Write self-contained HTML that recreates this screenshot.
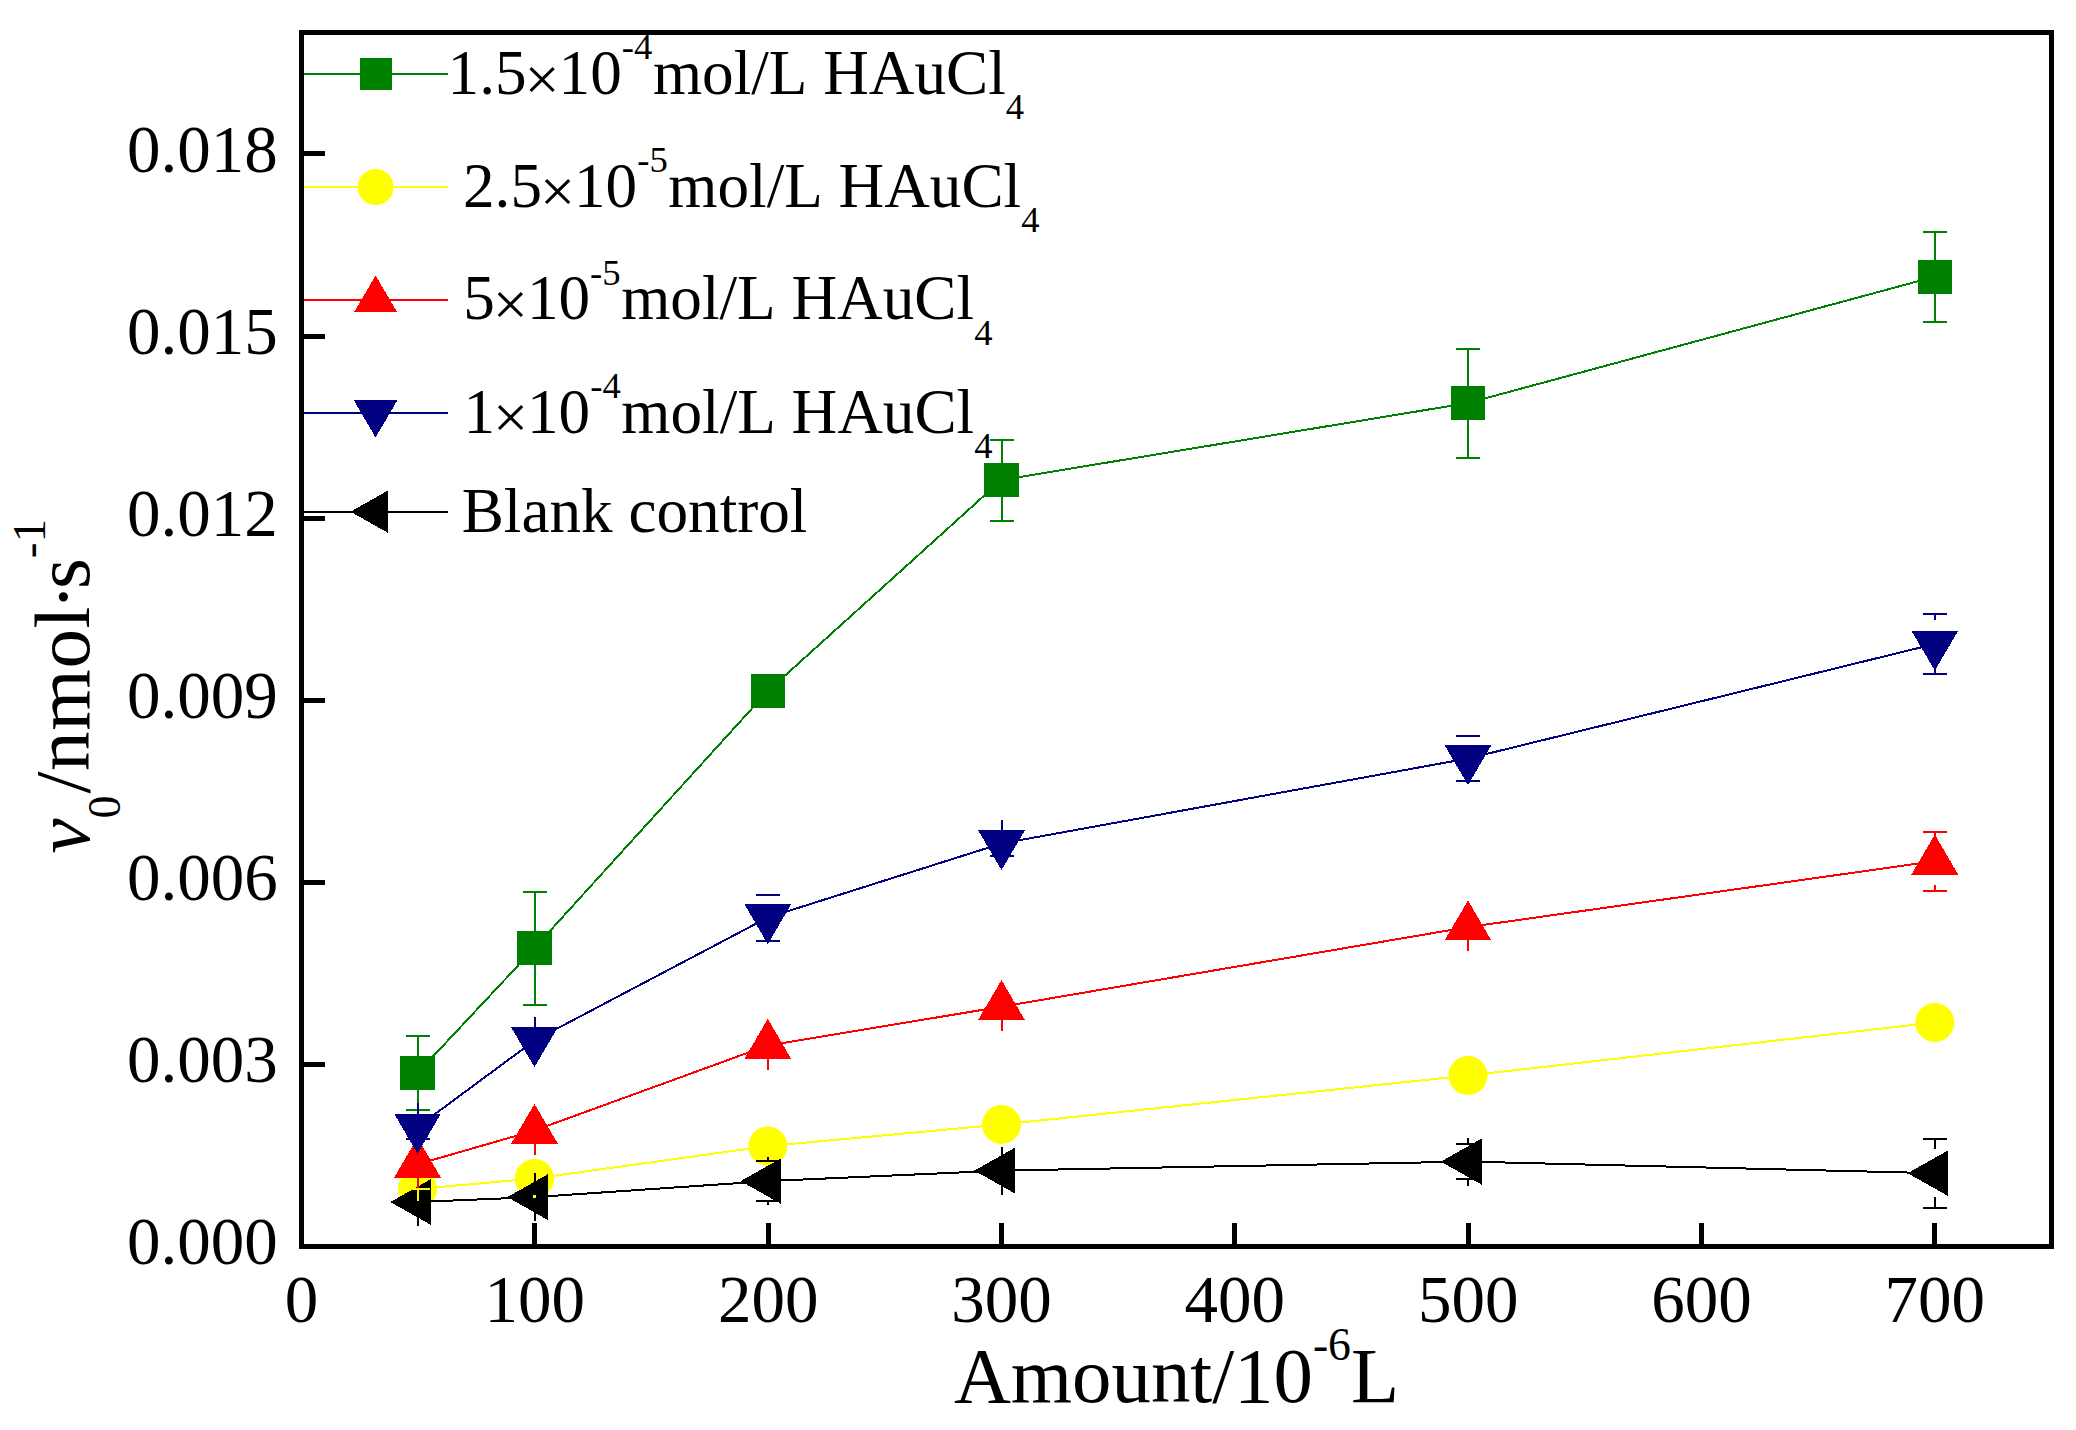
<!DOCTYPE html>
<html lang="en"><head><meta charset="utf-8"><title>Initial rate vs amount</title>
<style>html,body{margin:0;padding:0;background:#fff}body{width:2076px;height:1430px;overflow:hidden}</style>
</head><body>
<svg width="2076" height="1430" viewBox="0 0 2076 1430" style="display:block;font-kerning:none;font-variant-ligatures:none" font-family='"Liberation Serif", serif' fill="#000">
<rect x="0" y="0" width="2076" height="1430" fill="#fff"/>
<g shape-rendering="crispEdges">
<polyline points="417.5,1073 534.5,948 767.8,691.1 1001.5,480 1468,403 1934.8,276.7" fill="none" stroke="#008000" stroke-width="2.0"/>
<rect x="400.2" y="1056" width="34.6" height="34" fill="#008000"/>
<rect x="517.2" y="931" width="34.6" height="34" fill="#008000"/>
<rect x="750.5" y="674.1" width="34.6" height="34" fill="#008000"/>
<rect x="984.2" y="463" width="34.6" height="34" fill="#008000"/>
<rect x="1450.7" y="386" width="34.6" height="34" fill="#008000"/>
<rect x="1917.5" y="259.7" width="34.6" height="34" fill="#008000"/>
<polyline points="417.5,1189 534.5,1178.5 767.8,1146.1 1001.5,1124.5 1468,1075.5 1934.8,1022.5" fill="none" stroke="#ffff00" stroke-width="2.0"/>
<circle cx="417.5" cy="1189" r="19.5" fill="#ffff00" shape-rendering="auto"/>
<circle cx="534.5" cy="1178.5" r="19.5" fill="#ffff00" shape-rendering="auto"/>
<circle cx="767.8" cy="1146.1" r="19.5" fill="#ffff00" shape-rendering="auto"/>
<circle cx="1001.5" cy="1124.5" r="19.5" fill="#ffff00" shape-rendering="auto"/>
<circle cx="1468" cy="1075.5" r="19.5" fill="#ffff00" shape-rendering="auto"/>
<circle cx="1934.8" cy="1022.5" r="19.5" fill="#ffff00" shape-rendering="auto"/>
<polyline points="417.5,1164.3 534.5,1130.5 767.8,1045.5 1001.5,1006.7 1468,927.1 1934.8,861.2" fill="none" stroke="#ff0000" stroke-width="2.0"/>
<polygon points="417.5,1137.63 394.1,1177.63 440.9,1177.63" fill="#ff0000"/>
<polygon points="534.5,1103.83 511.1,1143.83 557.9,1143.83" fill="#ff0000"/>
<polygon points="767.8,1018.83 744.4,1058.83 791.2,1058.83" fill="#ff0000"/>
<polygon points="1001.5,980.03 978.1,1020.03 1024.9,1020.03" fill="#ff0000"/>
<polygon points="1468,900.43 1444.6,940.43 1491.4,940.43" fill="#ff0000"/>
<polygon points="1934.8,834.53 1911.4,874.53 1958.2,874.53" fill="#ff0000"/>
<polyline points="417.5,1127 534.5,1040.5 767.8,917.5 1001.5,843.5 1468,758.5 1934.8,644" fill="none" stroke="#000080" stroke-width="2.0"/>
<polygon points="417.5,1153.67 394.1,1113.67 440.9,1113.67" fill="#000080"/>
<polygon points="534.5,1067.17 511.1,1027.17 557.9,1027.17" fill="#000080"/>
<polygon points="767.8,944.17 744.4,904.17 791.2,904.17" fill="#000080"/>
<polygon points="1001.5,870.17 978.1,830.17 1024.9,830.17" fill="#000080"/>
<polygon points="1468,785.17 1444.6,745.17 1491.4,745.17" fill="#000080"/>
<polygon points="1934.8,670.67 1911.4,630.67 1958.2,630.67" fill="#000080"/>
<polyline points="417.5,1202 534.5,1197.1 767.8,1181.1 1001.5,1170.6 1468,1161.6 1934.8,1173.2" fill="none" stroke="#000000" stroke-width="2.0"/>
<polygon points="390.3,1202 431.1,1179 431.1,1225" fill="#000000"/>
<polygon points="507.3,1197.1 548.1,1174.1 548.1,1220.1" fill="#000000"/>
<polygon points="740.6,1181.1 781.4,1158.1 781.4,1204.1" fill="#000000"/>
<polygon points="974.3,1170.6 1015.1,1147.6 1015.1,1193.6" fill="#000000"/>
<polygon points="1440.8,1161.6 1481.6,1138.6 1481.6,1184.6" fill="#000000"/>
<polygon points="1907.6,1173.2 1948.4,1150.2 1948.4,1196.2" fill="#000000"/>
<line x1="405.5" y1="1036" x2="429.5" y2="1036" stroke="#008000" stroke-width="2.0"/>
<line x1="417.5" y1="1036" x2="417.5" y2="1056" stroke="#008000" stroke-width="2.0"/>
<line x1="405.5" y1="1110" x2="429.5" y2="1110" stroke="#008000" stroke-width="2.0"/>
<line x1="417.5" y1="1110" x2="417.5" y2="1090" stroke="#008000" stroke-width="2.0"/>
<line x1="522.5" y1="891.5" x2="546.5" y2="891.5" stroke="#008000" stroke-width="2.0"/>
<line x1="534.5" y1="891.5" x2="534.5" y2="931" stroke="#008000" stroke-width="2.0"/>
<line x1="522.5" y1="1004.5" x2="546.5" y2="1004.5" stroke="#008000" stroke-width="2.0"/>
<line x1="534.5" y1="1004.5" x2="534.5" y2="965" stroke="#008000" stroke-width="2.0"/>
<line x1="989.5" y1="439.5" x2="1013.5" y2="439.5" stroke="#008000" stroke-width="2.0"/>
<line x1="1001.5" y1="439.5" x2="1001.5" y2="463" stroke="#008000" stroke-width="2.0"/>
<line x1="989.5" y1="520.5" x2="1013.5" y2="520.5" stroke="#008000" stroke-width="2.0"/>
<line x1="1001.5" y1="520.5" x2="1001.5" y2="497" stroke="#008000" stroke-width="2.0"/>
<line x1="1456" y1="348.5" x2="1480" y2="348.5" stroke="#008000" stroke-width="2.0"/>
<line x1="1468" y1="348.5" x2="1468" y2="386" stroke="#008000" stroke-width="2.0"/>
<line x1="1456" y1="457.5" x2="1480" y2="457.5" stroke="#008000" stroke-width="2.0"/>
<line x1="1468" y1="457.5" x2="1468" y2="420" stroke="#008000" stroke-width="2.0"/>
<line x1="1922.8" y1="231.7" x2="1946.8" y2="231.7" stroke="#008000" stroke-width="2.0"/>
<line x1="1934.8" y1="231.7" x2="1934.8" y2="259.7" stroke="#008000" stroke-width="2.0"/>
<line x1="1922.8" y1="321.7" x2="1946.8" y2="321.7" stroke="#008000" stroke-width="2.0"/>
<line x1="1934.8" y1="321.7" x2="1934.8" y2="293.7" stroke="#008000" stroke-width="2.0"/>
<line x1="405.5" y1="1197" x2="429.5" y2="1197" stroke="#000000" stroke-width="2.0"/>
<line x1="417.5" y1="1197" x2="417.5" y2="1178" stroke="#000000" stroke-width="2.0"/>
<line x1="405.5" y1="1207" x2="429.5" y2="1207" stroke="#000000" stroke-width="2.0"/>
<line x1="417.5" y1="1207" x2="417.5" y2="1226" stroke="#000000" stroke-width="2.0"/>
<line x1="522.5" y1="1192.1" x2="546.5" y2="1192.1" stroke="#000000" stroke-width="2.0"/>
<line x1="534.5" y1="1192.1" x2="534.5" y2="1173.1" stroke="#000000" stroke-width="2.0"/>
<line x1="522.5" y1="1202.1" x2="546.5" y2="1202.1" stroke="#000000" stroke-width="2.0"/>
<line x1="534.5" y1="1202.1" x2="534.5" y2="1221.1" stroke="#000000" stroke-width="2.0"/>
<line x1="755.8" y1="1161.1" x2="779.8" y2="1161.1" stroke="#000000" stroke-width="2.0"/>
<line x1="767.8" y1="1161.1" x2="767.8" y2="1157.1" stroke="#000000" stroke-width="2.0"/>
<line x1="755.8" y1="1201.1" x2="779.8" y2="1201.1" stroke="#000000" stroke-width="2.0"/>
<line x1="767.8" y1="1201.1" x2="767.8" y2="1205.1" stroke="#000000" stroke-width="2.0"/>
<line x1="989.5" y1="1165.6" x2="1013.5" y2="1165.6" stroke="#000000" stroke-width="2.0"/>
<line x1="1001.5" y1="1165.6" x2="1001.5" y2="1146.6" stroke="#000000" stroke-width="2.0"/>
<line x1="989.5" y1="1175.6" x2="1013.5" y2="1175.6" stroke="#000000" stroke-width="2.0"/>
<line x1="1001.5" y1="1175.6" x2="1001.5" y2="1194.6" stroke="#000000" stroke-width="2.0"/>
<line x1="1456" y1="1144.4" x2="1480" y2="1144.4" stroke="#000000" stroke-width="2.0"/>
<line x1="1468" y1="1144.4" x2="1468" y2="1137.6" stroke="#000000" stroke-width="2.0"/>
<line x1="1456" y1="1178.8" x2="1480" y2="1178.8" stroke="#000000" stroke-width="2.0"/>
<line x1="1468" y1="1178.8" x2="1468" y2="1185.6" stroke="#000000" stroke-width="2.0"/>
<line x1="1922.8" y1="1138.9" x2="1946.8" y2="1138.9" stroke="#000000" stroke-width="2.0"/>
<line x1="1934.8" y1="1138.9" x2="1934.8" y2="1149.2" stroke="#000000" stroke-width="2.0"/>
<line x1="1922.8" y1="1207.5" x2="1946.8" y2="1207.5" stroke="#000000" stroke-width="2.0"/>
<line x1="1934.8" y1="1207.5" x2="1934.8" y2="1197.2" stroke="#000000" stroke-width="2.0"/>
<line x1="405.5" y1="1115" x2="429.5" y2="1115" stroke="#000080" stroke-width="2.0"/>
<line x1="417.5" y1="1115" x2="417.5" y2="1103" stroke="#000080" stroke-width="2.0"/>
<line x1="405.5" y1="1139" x2="429.5" y2="1139" stroke="#000080" stroke-width="2.0"/>
<line x1="417.5" y1="1139" x2="417.5" y2="1151" stroke="#000080" stroke-width="2.0"/>
<line x1="522.5" y1="1035.5" x2="546.5" y2="1035.5" stroke="#000080" stroke-width="2.0"/>
<line x1="534.5" y1="1035.5" x2="534.5" y2="1016.5" stroke="#000080" stroke-width="2.0"/>
<line x1="522.5" y1="1045.5" x2="546.5" y2="1045.5" stroke="#000080" stroke-width="2.0"/>
<line x1="534.5" y1="1045.5" x2="534.5" y2="1064.5" stroke="#000080" stroke-width="2.0"/>
<line x1="755.8" y1="894.5" x2="779.8" y2="894.5" stroke="#000080" stroke-width="2.0"/>
<line x1="767.8" y1="894.5" x2="767.8" y2="893.5" stroke="#000080" stroke-width="2.0"/>
<line x1="755.8" y1="940.5" x2="779.8" y2="940.5" stroke="#000080" stroke-width="2.0"/>
<line x1="767.8" y1="940.5" x2="767.8" y2="941.5" stroke="#000080" stroke-width="2.0"/>
<line x1="989.5" y1="830.9" x2="1013.5" y2="830.9" stroke="#000080" stroke-width="2.0"/>
<line x1="1001.5" y1="830.9" x2="1001.5" y2="819.5" stroke="#000080" stroke-width="2.0"/>
<line x1="989.5" y1="856.1" x2="1013.5" y2="856.1" stroke="#000080" stroke-width="2.0"/>
<line x1="1001.5" y1="856.1" x2="1001.5" y2="867.5" stroke="#000080" stroke-width="2.0"/>
<line x1="1456" y1="736" x2="1480" y2="736" stroke="#000080" stroke-width="2.0"/>
<line x1="1468" y1="736" x2="1468" y2="734.5" stroke="#000080" stroke-width="2.0"/>
<line x1="1456" y1="781" x2="1480" y2="781" stroke="#000080" stroke-width="2.0"/>
<line x1="1468" y1="781" x2="1468" y2="782.5" stroke="#000080" stroke-width="2.0"/>
<line x1="1922.8" y1="614" x2="1946.8" y2="614" stroke="#000080" stroke-width="2.0"/>
<line x1="1934.8" y1="614" x2="1934.8" y2="620" stroke="#000080" stroke-width="2.0"/>
<line x1="1922.8" y1="674" x2="1946.8" y2="674" stroke="#000080" stroke-width="2.0"/>
<line x1="1934.8" y1="674" x2="1934.8" y2="668" stroke="#000080" stroke-width="2.0"/>
<line x1="405.5" y1="1189" x2="429.5" y2="1189" stroke="#ffff00" stroke-width="2.0"/>
<line x1="417.5" y1="1188" x2="417.5" y2="1201" stroke="#ffff00" stroke-width="2.0"/>
<rect x="533.3" y="1194.5" width="2.6" height="3" fill="#ffff00"/>
<line x1="405.5" y1="1169.3" x2="429.5" y2="1169.3" stroke="#ff0000" stroke-width="2.0"/>
<line x1="417.5" y1="1169.3" x2="417.5" y2="1188.3" stroke="#ff0000" stroke-width="2.0"/>
<line x1="522.5" y1="1135.5" x2="546.5" y2="1135.5" stroke="#ff0000" stroke-width="2.0"/>
<line x1="534.5" y1="1135.5" x2="534.5" y2="1154.5" stroke="#ff0000" stroke-width="2.0"/>
<line x1="755.8" y1="1050.5" x2="779.8" y2="1050.5" stroke="#ff0000" stroke-width="2.0"/>
<line x1="767.8" y1="1050.5" x2="767.8" y2="1069.5" stroke="#ff0000" stroke-width="2.0"/>
<line x1="989.5" y1="1011.7" x2="1013.5" y2="1011.7" stroke="#ff0000" stroke-width="2.0"/>
<line x1="1001.5" y1="1011.7" x2="1001.5" y2="1030.7" stroke="#ff0000" stroke-width="2.0"/>
<line x1="1456" y1="932.1" x2="1480" y2="932.1" stroke="#ff0000" stroke-width="2.0"/>
<line x1="1468" y1="932.1" x2="1468" y2="951.1" stroke="#ff0000" stroke-width="2.0"/>
<line x1="1922.8" y1="831.6" x2="1946.8" y2="831.6" stroke="#ff0000" stroke-width="2.0"/>
<line x1="1934.8" y1="831.6" x2="1934.8" y2="837.2" stroke="#ff0000" stroke-width="2.0"/>
<line x1="1922.8" y1="890.8" x2="1946.8" y2="890.8" stroke="#ff0000" stroke-width="2.0"/>
<line x1="1934.8" y1="890.8" x2="1934.8" y2="885.2" stroke="#ff0000" stroke-width="2.0"/>
<line x1="303" y1="73.9" x2="448" y2="73.9" stroke="#008000" stroke-width="2.0"/>
<rect x="359.6" y="58.18" width="32.01" height="31.45" fill="#008000"/>
<line x1="303" y1="187.0" x2="448" y2="187.0" stroke="#ffff00" stroke-width="2.0"/>
<circle cx="375.6" cy="187" r="18.04" fill="#ffff00" shape-rendering="auto"/>
<line x1="303" y1="300.1" x2="448" y2="300.1" stroke="#ff0000" stroke-width="2.0"/>
<polygon points="375.6,275.43 353.96,312.43 397.25,312.43" fill="#ff0000"/>
<line x1="303" y1="412.8" x2="448" y2="412.8" stroke="#000080" stroke-width="2.0"/>
<polygon points="375.6,437.47 353.96,400.47 397.25,400.47" fill="#000080"/>
<line x1="303" y1="511.7" x2="448" y2="511.7" stroke="#000000" stroke-width="2.0"/>
<polygon points="350.44,511.7 388.18,490.43 388.18,532.98" fill="#000000"/>
<rect x="301.5" y="32.5" width="1750.0" height="1214.0" fill="none" stroke="#000" stroke-width="5"/>
<line x1="301.5" y1="1246.5" x2="301.5" y2="1223.0" stroke="#000" stroke-width="5"/>
<line x1="534.83" y1="1246.5" x2="534.83" y2="1223.0" stroke="#000" stroke-width="5"/>
<line x1="768.17" y1="1246.5" x2="768.17" y2="1223.0" stroke="#000" stroke-width="5"/>
<line x1="1001.5" y1="1246.5" x2="1001.5" y2="1223.0" stroke="#000" stroke-width="5"/>
<line x1="1234.83" y1="1246.5" x2="1234.83" y2="1223.0" stroke="#000" stroke-width="5"/>
<line x1="1468.17" y1="1246.5" x2="1468.17" y2="1223.0" stroke="#000" stroke-width="5"/>
<line x1="1701.5" y1="1246.5" x2="1701.5" y2="1223.0" stroke="#000" stroke-width="5"/>
<line x1="1934.83" y1="1246.5" x2="1934.83" y2="1223.0" stroke="#000" stroke-width="5"/>
<line x1="301.5" y1="1246.5" x2="325.0" y2="1246.5" stroke="#000" stroke-width="5"/>
<line x1="301.5" y1="1064.4" x2="325.0" y2="1064.4" stroke="#000" stroke-width="5"/>
<line x1="301.5" y1="882.3" x2="325.0" y2="882.3" stroke="#000" stroke-width="5"/>
<line x1="301.5" y1="700.2" x2="325.0" y2="700.2" stroke="#000" stroke-width="5"/>
<line x1="301.5" y1="518.1" x2="325.0" y2="518.1" stroke="#000" stroke-width="5"/>
<line x1="301.5" y1="336" x2="325.0" y2="336" stroke="#000" stroke-width="5"/>
<line x1="301.5" y1="153.9" x2="325.0" y2="153.9" stroke="#000" stroke-width="5"/>
</g>
<g font-size="67.0" text-anchor="middle">
<text x="301.5" y="1321.7">0</text>
<text x="534.83" y="1321.7">100</text>
<text x="768.17" y="1321.7">200</text>
<text x="1001.5" y="1321.7">300</text>
<text x="1234.83" y="1321.7">400</text>
<text x="1468.17" y="1321.7">500</text>
<text x="1701.5" y="1321.7">600</text>
<text x="1934.83" y="1321.7">700</text>
</g>
<g font-size="67.0" text-anchor="end">
<text x="277.8" y="1264.3">0.000</text>
<text x="277.8" y="1082.2">0.003</text>
<text x="277.8" y="900.1">0.006</text>
<text x="277.8" y="718">0.009</text>
<text x="277.8" y="535.9">0.012</text>
<text x="277.8" y="353.8">0.015</text>
<text x="277.8" y="171.7">0.018</text>
</g>
<text x="953.9" y="1402.2" font-size="78.8">Amount/10<tspan font-size="45.7" dy="-42.7">-6</tspan><tspan dy="42.7">L</tspan></text>
<text transform="translate(89.0 853.5) rotate(-90)" font-size="79.0" ><tspan font-style="italic">v</tspan><tspan font-size="45.82" dy="30.6">0</tspan></text>
<text transform="translate(89.0 793.6) rotate(-90)" font-size="79.0" letter-spacing="0.7">/nmol</text>
<text transform="translate(89.0 610.1) rotate(-90)" font-size="79.0" >·</text>
<text transform="translate(89.0 588.9) rotate(-90)" font-size="79.0" >s</text>
<text transform="translate(44.9 558.2) rotate(-90)" font-size="47.2">-1</text>
<text x="447.6" y="94.0" font-size="63.2">1.5</text>
<text x="542.1" y="99.5" font-size="62.3" text-anchor="middle">×</text>
<text x="558.6" y="94.0" font-size="63.2">10</text>
<text x="621.8" y="59.4" font-size="36.66">-4</text>
<text x="652.93" y="94.0" font-size="63.2">mol/L HAuCl</text>
<text x="1005.84" y="119.4" font-size="36.66">4</text>
<text x="463" y="206.8" font-size="63.2">2.5</text>
<text x="557.5" y="212.3" font-size="62.3" text-anchor="middle">×</text>
<text x="574" y="206.8" font-size="63.2">10</text>
<text x="637.2" y="172.2" font-size="36.66">-5</text>
<text x="668.33" y="206.8" font-size="63.2">mol/L HAuCl</text>
<text x="1021.24" y="232.2" font-size="36.66">4</text>
<text x="463.3" y="319.4" font-size="63.2">5</text>
<text x="510.4" y="324.9" font-size="62.3" text-anchor="middle">×</text>
<text x="526.9" y="319.4" font-size="63.2">10</text>
<text x="590.1" y="284.8" font-size="36.66">-5</text>
<text x="621.23" y="319.4" font-size="63.2">mol/L HAuCl</text>
<text x="974.14" y="344.8" font-size="36.66">4</text>
<text x="463.4" y="432.7" font-size="63.2">1</text>
<text x="510.5" y="438.2" font-size="62.3" text-anchor="middle">×</text>
<text x="527" y="432.7" font-size="63.2">10</text>
<text x="590.2" y="398.1" font-size="36.66">-4</text>
<text x="621.33" y="432.7" font-size="63.2">mol/L HAuCl</text>
<text x="974.24" y="458.1" font-size="36.66">4</text>
<text x="461.7" y="531.9" font-size="63.2">Blank control</text>
</svg>
</body></html>
